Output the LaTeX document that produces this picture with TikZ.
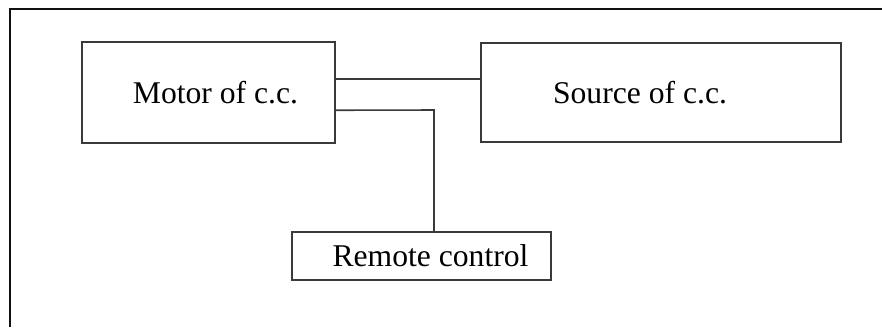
\documentclass[tikz,border=0pt]{standalone}
\usepackage{fontspec}
\setmainfont{Liberation Serif}
\usepackage{xcolor}
\definecolor{framegray}{HTML}{111111}
\definecolor{linegray}{HTML}{3A3A3A}
\usepackage{tikz}
\usetikzlibrary{positioning, calc}
\tikzset{
  blockbox/.style={rectangle, draw=linegray, line width=0.9pt, fill=white, text=black,
                   align=center, inner sep=0pt, font=\fontsize{18}{22}\selectfont},
  wire/.style    ={line width=0.9pt, color=linegray},
  frameline/.style={line width=1.3pt, color=framegray},
}

\begin{document}
\begin{tikzpicture}[x=1cm, y=1cm]
  \useasboundingbox[fill=white] (0,0) rectangle (17.64,-6.54);
  \draw[frameline] (0.20,-6.54) -- (0.20,-0.18) -- (17.64,-0.18);
  \node[blockbox, minimum width=5.06cm, minimum height=2.02cm] (motor) at (4.17,-1.85) {\hspace*{0.28cm}Motor of c.c.};
  \node[blockbox, minimum width=7.20cm, minimum height=1.98cm] (source) at (13.22,-1.85) {\raisebox{-0.14cm}{Source of c.c.}\hspace*{0.84cm}};
  \node[blockbox, minimum width=5.18cm, minimum height=0.96cm] (remote) at (8.43,-5.12) {\hspace*{0.36cm}Remote control};
  \coordinate (mtop) at ($(motor.north east)!0.366!(motor.south east)$);
  \coordinate (mlow) at ($(motor.north east)!0.673!(motor.south east)$);
  \coordinate (bend) at (8.68,-2.20);
  \draw[wire] (mtop) -- (mtop -| source.west);
  \draw[wire] (mlow) -- (bend) -- (bend |- remote.north);
\end{tikzpicture}
\end{document}
